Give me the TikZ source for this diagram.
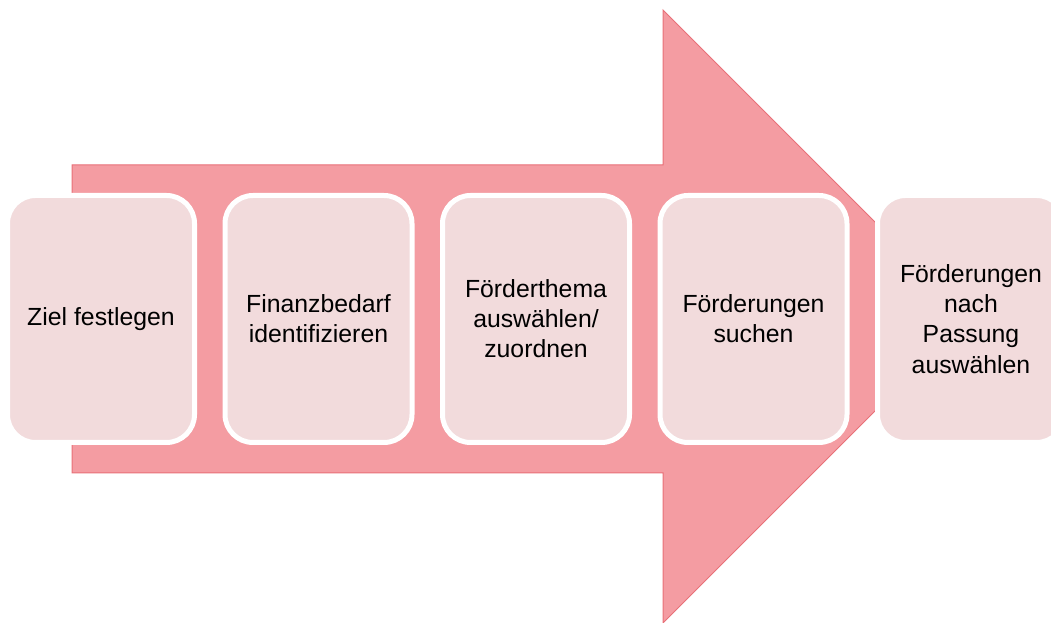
\documentclass[tikz,border=0pt]{standalone}
\usepackage{fontspec}
\setmainfont{Liberation Sans}
\usepackage{xcolor}
\definecolor{arrowpink}{RGB}{244,156,162}
\definecolor{arrowedge}{RGB}{232,112,120}
\definecolor{boxpink}{RGB}{242,219,220}

\begin{document}
\begin{tikzpicture}[x=0.75pt,y=-0.75pt,
  phase/.style={draw=white, line width=3.75pt, fill=boxpink,
    rounded corners=21pt, minimum width=140.25pt, minimum height=185.25pt,
    align=center, inner sep=2pt, font=\fontsize{18.6}{22.6}\selectfont}]

\useasboundingbox (0,0) rectangle (1051,623);

% big arrow behind the steps
\draw[arrowedge, fill=arrowpink, line width=0.75pt] (72,165)--(663,165)--(663,10)--(876,223)
  --(876,410)--(663,623)--(663,473)--(72,473)--cycle;

\node[phase] (ziel) at (101,319) {Ziel festlegen};
\node[phase] (bedarf) at (318.5,319) {Finanzbedarf\\identifizieren};
\node[phase] (thema) at (536,319) {Förderthema\\auswählen/\\zuordnen};
\node[phase] (suche) at (753.5,319) {Förderungen\\suchen};
\node[phase] (auswahl) at (971,319) {Förderungen\\nach\\Passung\\auswählen};

\end{tikzpicture}
\end{document}
